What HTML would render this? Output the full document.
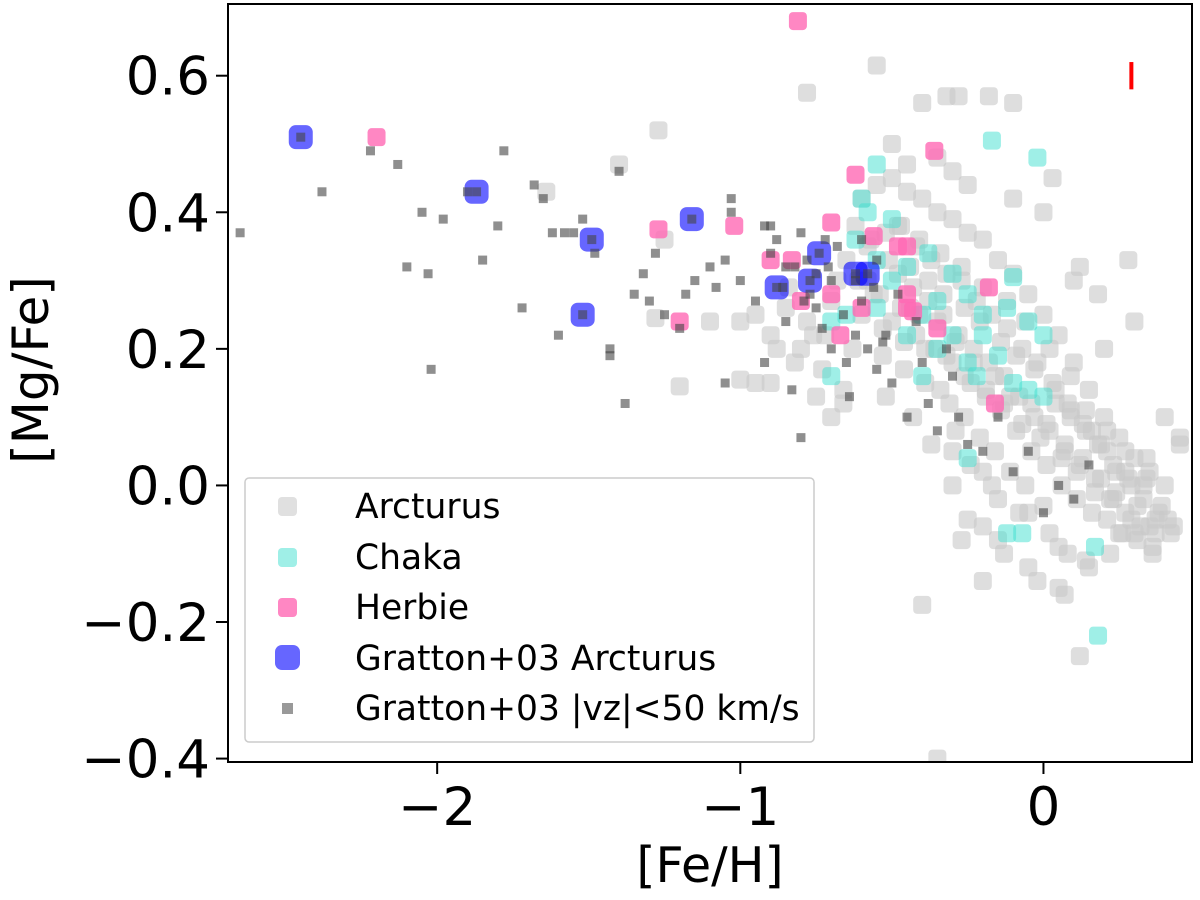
<!DOCTYPE html>
<html><head><meta charset="utf-8"><style>
html,body{margin:0;padding:0;background:#fff;}
svg{display:block;font-family:"DejaVu Sans","Liberation Sans",sans-serif;}
</style></head><body>
<svg id="chart" width="1200" height="900" viewBox="0 0 1200 900" xmlns="http://www.w3.org/2000/svg">
<g id="marks"></g>
<rect x="228" y="4" width="964" height="758" fill="none" stroke="#000" stroke-width="2"/>
<g id="axes"></g>
<text x="710" y="882" font-size="49" text-anchor="middle">[Fe/H]</text>
<text transform="translate(48,370) rotate(-90)" font-size="50" text-anchor="middle">[Mg/Fe]</text>
<g>
<rect x="245" y="478" width="569" height="264" rx="4" fill="#fff" fill-opacity="0.8" stroke="#ccc" stroke-width="1.5"/>
<g><rect x="278" y="497" width="19" height="19" rx="4" fill="#d3d3d3" fill-opacity="0.7"/><text x="355" y="518" font-size="34.5">Arcturus</text></g>
<g><rect x="278" y="548" width="19" height="19" rx="4" fill="#40e0d0" fill-opacity="0.5"/><text x="355" y="569" font-size="34.5">Chaka</text></g>
<g><rect x="278" y="598" width="19" height="19" rx="4" fill="#ff69b4" fill-opacity="0.8"/><text x="355" y="619" font-size="34.5">Herbie</text></g>
<g><rect x="275" y="645" width="25" height="25" rx="7" fill="#0000ff" fill-opacity="0.6"/><text x="355" y="670" font-size="34.5">Gratton+03 Arcturus</text></g>
<g><rect x="282" y="703" width="11" height="11" fill="#555" fill-opacity="0.6"/><text x="355" y="720" font-size="34.5">Gratton+03 |vz|&lt;50 km/s</text></g>
</g>
</svg>
<script>
const xTicks=[-2,-1,0];
const xTickLabels=["\u22122","\u22121","0"];
const yTicks=[-0.4,-0.2,0.0,0.2,0.4,0.6];
const yTickLabels=["\u22120.4","\u22120.2","0.0","0.2","0.4","0.6"];
const arcturusFe=[-0.55,-0.78,-0.4,-0.32,-0.28,-0.18,-0.1,-1.27,-1.4,-1.2,-1.0,-0.95,-0.9,-1.0,-0.95,-1.28,-1.1,0.28,0.3,0.03,-0.4,-0.2,0.12,-0.35,-1.64,-1.25,-0.85,-0.75,-0.8,-0.7,
-0.6,-0.55,-0.5,-0.45,-0.4,-0.35,-0.3,-0.25,-0.2,-0.15,-0.1,-0.05,0.0,0.05,0.1,0.15,0.2,0.25,0.3,0.35,0.4,
-0.62,-0.57,-0.52,-0.47,-0.42,-0.37,-0.32,-0.27,-0.22,-0.17,-0.12,-0.07,-0.02,0.03,0.08,0.13,0.18,0.23,0.28,0.33,0.38,0.43,
-0.65,-0.58,-0.48,-0.43,-0.38,-0.33,-0.28,-0.23,-0.18,-0.13,-0.08,-0.03,0.02,0.07,0.12,0.17,0.22,0.27,0.32,0.37,
-0.7,-0.6,-0.5,-0.42,-0.36,-0.3,-0.24,-0.19,-0.14,-0.09,-0.04,0.01,0.06,0.11,0.16,0.21,0.26,0.31,0.36,0.41,
-0.72,-0.63,-0.53,-0.46,-0.39,-0.31,-0.26,-0.21,-0.16,-0.11,-0.06,0.0,0.04,0.09,0.14,0.19,0.24,0.29,0.34,0.45,
-0.68,-0.56,-0.44,-0.34,-0.29,-0.2,-0.15,-0.05,0.02,0.08,0.15,0.22,0.3,-0.3,-0.25,-0.15,-0.05,0.05,0.1,0.2,
-0.5,-0.45,-0.35,-0.3,-0.25,-0.1,0.0,0.12,0.18,-0.27,-0.13,-0.02,0.07,-0.3,-0.2,0.45,0.4,-0.88,-0.82,-0.66,
-0.58,-0.51,-0.44,-0.38,-0.33,-0.26,-0.21,-0.14,-0.09,-0.03,0.04,0.09,0.16,0.21,0.27,0.33,0.39,
-0.61,-0.54,-0.47,-0.41,-0.35,-0.29,-0.23,-0.16,-0.11,-0.04,0.01,0.07,0.13,0.19,0.24,0.31,0.37,0.42,
-0.53,-0.46,-0.39,-0.32,-0.26,-0.19,-0.13,-0.07,-0.01,0.06,0.11,0.17,0.23,0.29,0.35,-0.48,-0.41,-0.34,-0.27,-0.2,-0.12,-0.06,0.02,0.09,0.14,0.21,0.27,0.34,
-0.76,-0.73,-0.66,-0.9,-0.84,-0.78,-0.52,-0.43,-0.37,-0.24,-0.17,-0.08,0.05,0.14,0.25,0.36];
const arcturusMg=[0.615,0.575,0.56,0.57,0.57,0.57,0.56,0.52,0.47,0.145,0.155,0.15,0.15,0.24,0.25,0.245,0.24,0.33,0.24,0.45,-0.175,-0.14,-0.25,-0.4,0.43,0.36,0.26,0.13,0.2,0.1,
0.42,0.44,0.45,0.43,0.42,0.4,0.39,0.37,0.36,0.33,0.31,0.28,0.25,0.22,0.18,0.14,0.1,0.07,0.04,0.02,0.0,
0.38,0.36,0.37,0.38,0.35,0.33,0.31,0.3,0.27,0.25,0.23,0.2,0.18,0.15,0.12,0.09,0.06,0.03,0.01,-0.02,-0.04,-0.06,
0.33,0.3,0.31,0.29,0.27,0.25,0.22,0.2,0.18,0.16,0.13,0.1,0.08,0.05,0.03,0.01,-0.02,-0.04,-0.06,-0.07,
0.27,0.25,0.24,0.22,0.2,0.18,0.15,0.13,0.11,0.08,0.05,0.03,0.0,-0.02,-0.04,-0.05,-0.07,-0.08,-0.09,-0.05,
0.22,0.2,0.19,0.17,0.15,0.12,0.1,0.07,0.05,0.02,0.0,-0.03,0.12,0.1,0.08,0.06,0.02,0.0,0.04,0.06,
0.3,0.28,0.26,0.14,0.08,0.02,-0.02,-0.04,-0.07,-0.1,-0.12,-0.1,-0.07,0.05,-0.05,-0.08,-0.12,-0.15,0.3,0.2,
0.5,0.47,0.48,0.46,0.44,0.42,0.4,0.32,0.28,-0.08,-0.1,-0.14,-0.16,0.0,-0.06,0.07,0.1,0.2,0.18,0.12,
0.35,0.33,0.32,0.3,0.28,0.26,0.24,0.21,0.19,0.17,0.14,0.11,0.08,0.05,0.02,0.0,-0.03,
0.3,0.28,0.26,0.25,0.24,0.21,0.18,0.16,0.13,0.12,0.09,0.06,0.04,0.01,-0.01,-0.03,-0.05,-0.07,
0.23,0.21,0.2,0.19,0.16,0.14,0.12,0.09,0.07,0.04,0.02,-0.01,-0.02,-0.05,-0.06,0.38,0.36,0.34,0.32,0.29,0.27,0.24,0.2,0.16,0.11,0.08,0.05,0.01,
0.22,0.17,0.14,0.22,0.29,0.24,0.13,0.1,0.06,0.03,0.0,-0.04,-0.09,-0.11,-0.07,-0.1];
const chakaFe=[-0.17,-0.02,-0.55,-0.6,-0.58,-0.5,-0.62,-0.55,-0.5,-0.45,-0.38,-0.3,-0.25,-0.2,-0.12,-0.1,-0.05,0,-0.35,-0.3,-0.25,-0.22,-0.1,-0.05,0,-0.4,-0.7,-0.7,-0.65,-0.55,-0.45,-0.4,-0.2,-0.25,-0.12,-0.07,0.17,0.18,-0.35,-0.15];
const chakaMg=[0.505,0.48,0.47,0.42,0.40,0.39,0.36,0.33,0.30,0.32,0.34,0.31,0.28,0.25,0.26,0.305,0.24,0.22,0.2,0.22,0.18,0.16,0.15,0.14,0.13,0.16,0.16,0.24,0.25,0.26,0.22,0.25,0.22,0.04,-0.07,-0.07,-0.09,-0.22,0.27,0.19];
const herbieFe=[-0.81,-2.2,-1.27,-1.2,-1.02,-0.9,-0.83,-0.8,-0.7,-0.7,-0.67,-0.62,-0.6,-0.56,-0.48,-0.45,-0.45,-0.43,-0.36,-0.35,-0.18,-0.16,-0.45];
const herbieMg=[0.68,0.51,0.375,0.24,0.38,0.33,0.33,0.27,0.385,0.28,0.22,0.455,0.26,0.365,0.35,0.35,0.28,0.255,0.49,0.23,0.29,0.12,0.26];
const grattonArcFe=[-2.45,-1.87,-1.49,-1.52,-1.16,-0.88,-0.77,-0.74,-0.62,-0.58];
const grattonArcMg=[0.51,0.43,0.36,0.25,0.39,0.29,0.30,0.34,0.31,0.31];
const grattonFe=[-2.65,-2.45,-1.87,-1.49,-1.52,-1.16,-0.88,-0.77,-0.74,-0.62,-0.58,-2.38,-2.22,-2.13,-2.05,-2.02,-2.03,-2.1,-1.98,-1.9,-1.85,-1.8,-1.78,-1.72,-1.68,-1.65,-1.62,-1.6,-1.58,-1.55,-1.52,-1.48,-1.43,-1.43,-1.4,-1.38,-1.35,-1.32,-1.3,-1.28,-1.25,-1.2,-1.18,-1.15,-1.1,-1.08,-1.05,-1.05,-1.03,-1.03,-1.0,-0.95,-0.92,-0.9,-0.88,-0.85,-0.85,-0.83,-0.8,-0.8,-0.78,-0.75,-0.73,-0.72,-0.7,-0.68,-0.65,-0.64,-0.62,-0.6,-0.58,-0.55,-0.55,-0.52,-0.5,-0.48,-0.45,-0.42,-0.4,-0.38,-0.35,-0.32,-0.3,-0.28,-0.25,-0.2,-0.15,-0.1,-0.05,0.0,0.05,0.1,0.15,-0.6,-0.7,-0.75,-0.77,-0.86,-0.92,-0.82,-0.66,-0.71,-0.56,-0.53,-0.62,-0.9,-0.79];
const grattonMg=[0.37,0.51,0.43,0.36,0.25,0.39,0.29,0.30,0.34,0.31,0.31,0.43,0.49,0.47,0.4,0.17,0.31,0.32,0.39,0.43,0.33,0.38,0.49,0.26,0.44,0.42,0.37,0.22,0.37,0.37,0.39,0.34,0.2,0.19,0.46,0.12,0.28,0.31,0.27,0.34,0.25,0.23,0.28,0.3,0.32,0.29,0.15,0.33,0.42,0.4,0.3,0.27,0.18,0.38,0.36,0.32,0.24,0.14,0.07,0.37,0.33,0.26,0.23,0.36,0.2,0.35,0.18,0.13,0.3,0.36,0.2,0.33,0.17,0.22,0.15,0.28,0.1,0.24,0.18,0.12,0.08,0.2,0.16,0.1,0.06,0.05,0.1,0.02,0.05,-0.04,0.0,-0.02,0.03,0.27,0.3,0.31,0.28,0.29,0.38,0.32,0.25,0.32,0.29,0.21,0.22,0.34,0.27];
const errFe=[0.29], errLo=[0.58], errHi=[0.62];

const X0=228,X1=1192,Y0=4,Y1=762, xmin=-2.69, xmax=0.49, ymin=-0.405, ymax=0.705;
const sx=v=>X0+(v-xmin)/(xmax-xmin)*(X1-X0);
const sy=v=>Y1-(v-ymin)/(ymax-ymin)*(Y1-Y0);
const NS="http://www.w3.org/2000/svg";
const marks=document.getElementById('marks');
const axes=document.getElementById('axes');
(function(){const c=document.createElementNS(NS,'clipPath');c.id='pc';const r=document.createElementNS(NS,'rect');r.setAttribute('x',X0);r.setAttribute('y',Y0);r.setAttribute('width',X1-X0);r.setAttribute('height',Y1-Y0);c.appendChild(r);document.getElementById('chart').prepend(c);marks.setAttribute('clip-path','url(#pc)');})();
function series(fe,mg,size,rx,fill,op,name){
  const g=document.createElementNS(NS,'g');
  
  
  for(let i=0;i<fe.length;i++){
    const r=document.createElementNS(NS,'rect');
    r.setAttribute('x',sx(fe[i])-size/2);r.setAttribute('y',sy(mg[i])-size/2);
    r.setAttribute('width',size);r.setAttribute('height',size);r.setAttribute('rx',rx);
    r.setAttribute('fill',fill);r.setAttribute('fill-opacity',op);
    
    
    g.appendChild(r);
  }
  marks.appendChild(g);
}
series(arcturusFe,arcturusMg,18,4,'#c8c8c8',0.6,'arcturus');
series(chakaFe,chakaMg,18,4,'#40e0d0',0.5,'chaka');
series(herbieFe,herbieMg,18,4,'#ff69b4',0.8,'herbie');
series(grattonArcFe,grattonArcMg,24,7,'#0000ff',0.6,'gratton-arcturus');
series(grattonFe,grattonMg,9,0,'#444',0.6,'gratton-vz');
for(let i=0;i<errFe.length;i++){
  const l=document.createElementNS(NS,'line');
  l.setAttribute('x1',sx(errFe[i]));l.setAttribute('x2',sx(errFe[i]));
  l.setAttribute('y1',sy(errHi[i]));l.setAttribute('y2',sy(errLo[i]));
  l.setAttribute('stroke','#f00');l.setAttribute('stroke-width',4);
  
  
  marks.appendChild(l);
}
xTicks.forEach((v,i)=>{
  const t=document.createElementNS(NS,'line');
  t.setAttribute('x1',sx(v));t.setAttribute('x2',sx(v));t.setAttribute('y1',Y1);t.setAttribute('y2',Y1+12);t.setAttribute('stroke','#000');t.setAttribute('stroke-width',2);
  
  
  axes.appendChild(t);
  const s=document.createElementNS(NS,'text');
  s.setAttribute('x',sx(v));s.setAttribute('y',825);s.setAttribute('font-size','53');s.setAttribute('text-anchor','middle');
  s.textContent=xTickLabels[i];
  
  
  axes.appendChild(s);
});
yTicks.forEach((v,i)=>{
  const t=document.createElementNS(NS,'line');
  t.setAttribute('x1',X0-12);t.setAttribute('x2',X0);t.setAttribute('y1',sy(v));t.setAttribute('y2',sy(v));t.setAttribute('stroke','#000');t.setAttribute('stroke-width',2);
  
  
  axes.appendChild(t);
  const s=document.createElementNS(NS,'text');
  s.setAttribute('x',X0-18);s.setAttribute('y',sy(v)+19);s.setAttribute('font-size','53');s.setAttribute('text-anchor','end');
  s.textContent=yTickLabels[i];
  
  
  axes.appendChild(s);
});
</script>
</body></html>
